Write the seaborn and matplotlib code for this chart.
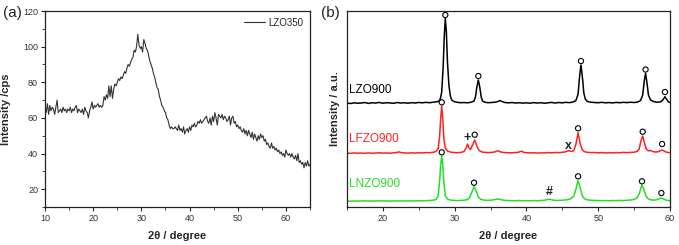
import matplotlib as mpl
import matplotlib.pyplot as plt
import numpy as np
import seaborn as sns

#_______________________________________________________________
# panel (a): LZO350, 0.25 degree steps from 10 to 65
a_start, a_step = 10.0, 0.25
lzo350 = [66, 63, 68, 62, 67, 64, 66, 65, 62, 66, 70, 63,
          64, 65, 63, 66, 64, 65, 63, 65, 64, 66, 63, 65,
          64, 66, 67, 63, 65, 64, 63, 65, 62, 66, 64, 63,
          60, 64, 66, 69, 65, 67, 66, 67, 68, 66, 67, 66,
          67, 72, 70, 73, 71, 78, 72, 78, 71, 76, 79, 78,
          80, 82, 81, 83, 82, 84, 86, 85, 88, 90, 89, 91,
          93, 94, 98, 97, 100, 107, 101, 99, 100, 97, 104, 102,
          99, 98, 95, 92, 90, 88, 85, 83, 80, 77, 76, 72,
          70, 67, 66, 64, 63, 60, 59, 56, 54, 55, 54, 54,
          55, 54, 53, 56, 53, 54, 52, 55, 51, 53, 54, 52,
          55, 53, 56, 55, 57, 55, 56, 58, 57, 59, 57, 58,
          59, 60, 61, 58, 57, 60, 56, 61, 58, 63, 60, 56,
          62, 61, 60, 62, 59, 61, 60, 58, 59, 61, 56, 60,
          61, 57, 58, 55, 56, 54, 55, 53, 52, 54, 51, 53,
          50, 53, 51, 49, 52, 48, 51, 49, 47, 50, 48, 51,
          49, 50, 47, 48, 45, 46, 44, 43, 46, 43, 44, 42,
          43, 41, 42, 40, 41, 39, 40, 38, 42, 40, 39, 40,
          38, 40, 38, 37, 39, 36, 40, 35, 36, 34, 35, 32,
          35, 33, 36, 33, 34]
theta_a = a_start + a_step * np.arange(len(lzo350))

#_______________________________________________________________
# panel (b): stacked patterns (arbitrary offset units)
lzo900_t = [15, 15.5, 16, 16.5, 17, 17.5, 18, 18.5, 19, 19.5, 20, 20.5, 21, 21.5, 22, 22.5, 23, 23.5,
            24, 24.5, 25, 25.5, 26, 26.5, 27, 27.5, 27.8, 28.0, 28.2, 28.4, 28.55, 28.7, 28.85, 29.0,
            29.2, 29.4, 29.6, 29.9, 30.3, 30.8, 31.3, 31.8, 32.3, 32.7, 32.9, 33.1, 33.3, 33.5, 33.7,
            33.9, 34.2, 34.7, 35.2, 35.7, 36.0, 36.3, 36.6, 37.0, 37.5, 38, 38.5, 39, 39.5, 40, 40.5,
            41, 41.5, 42, 42.5, 43, 43.5, 44, 44.5, 45, 45.5, 46, 46.5, 46.9, 47.2, 47.4, 47.6, 47.8,
            48.0, 48.2, 48.5, 49, 49.5, 50, 50.5, 51, 51.5, 52, 52.5, 53, 53.5, 54, 54.5, 55, 55.5,
            55.9, 56.2, 56.4, 56.6, 56.8, 57.0, 57.3, 57.7, 58.2, 58.7, 59.0, 59.3, 59.6, 59.8, 60]
lzo900_i = [104, 103.5, 104.2, 103.8, 104, 104.5, 103.6, 104.3, 104, 104.6, 103.8, 104.3, 104.1, 103.7,
            104.5, 104, 104.3, 103.8, 104.4, 104, 104.6, 104.2, 104.7, 104.3, 104.8, 105.2, 106, 108,
            115, 140, 170, 188.7, 175, 145, 122, 111, 107, 105.5, 104.8, 104.3, 104.5, 104.2, 104.8,
            106, 110, 120, 127, 120, 110, 106, 104.8, 104.3, 104.6, 104.8, 105.5, 106.5, 105.5, 104.5,
            104.2, 104.5, 104, 104.3, 103.9, 104.2, 103.8, 104.4, 104, 104.3, 103.8, 104.2, 104.6, 104,
            104.5, 104.2, 104.7, 104.4, 105, 106.5, 113, 130, 142, 130, 114, 108, 105.5, 104.8, 104.5,
            104.3, 104.7, 104.2, 104.5, 104.1, 104.6, 104.3, 104.7, 104.4, 104.8, 104.5, 105, 106.5,
            112, 125, 133.7, 124, 112, 107, 105.5, 104.8, 105.2, 107, 110.3, 107, 105, 104.5]

lfzo900_t = [15, 15.5, 16, 16.5, 17, 17.5, 18, 18.5, 19, 19.5, 20, 20.5, 21, 21.5, 22, 22.2, 22.5, 23,
             23.5, 24, 24.5, 25, 25.5, 26, 26.5, 27, 27.4, 27.7, 27.9, 28.05, 28.2, 28.35, 28.5, 28.7,
             29, 29.4, 29.9, 30.4, 30.9, 31.3, 31.6, 31.8, 32.0, 32.2, 32.5, 32.8, 33.1, 33.4, 33.8,
             34.3, 34.8, 35.3, 35.7, 36.0, 36.3, 36.8, 37.3, 37.8, 38.3, 38.8, 39.3, 39.6, 40, 40.5, 41,
             41.5, 42, 42.5, 43, 43.5, 44, 44.5, 45, 45.5, 45.9, 46.3, 46.6, 46.9, 47.2, 47.5, 47.8,
             48.1, 48.5, 49, 49.5, 50, 50.5, 51, 51.5, 52, 52.5, 53, 53.5, 54, 54.5, 55, 55.4, 55.7,
             55.95, 56.2, 56.45, 56.7, 57.0, 57.3, 57.6, 58, 58.4, 58.7, 58.9, 59.2, 59.5, 60]
lfzo900_i = [54, 53.6, 54.2, 53.8, 54, 53.7, 54.1, 53.8, 54, 54.2, 53.9, 54.1, 53.8, 54.2, 54.6, 55.2,
             54.5, 54.1, 53.9, 54.2, 54, 54.3, 54.1, 54.4, 54.3, 54.7, 55.5, 58, 70, 88, 101, 88, 68,
             59, 56, 55, 54.5, 54.3, 54.6, 55.5, 59, 63, 59, 57.5, 62, 67, 61, 56.5, 55, 54.6, 54.4,
             54.7, 55.3, 56.3, 55.3, 54.5, 54.3, 54.2, 54.4, 54.6, 55.8, 54.8, 54.3, 54.1, 54.3, 54,
             54.2, 54.1, 54.4, 54.2, 54.5, 54.4, 54.7, 55.3, 56.3, 55.5, 56.5, 63, 74.3, 63, 57, 55.3,
             54.7, 54.4, 54.5, 54.2, 54.4, 54.1, 54.3, 54.2, 54.4, 54.3, 54.6, 54.4, 54.6, 54.8, 55.5,
             58, 66, 71, 64, 58, 56.2, 56.5, 55.5, 55, 55.3, 56.5, 57, 56, 54.8, 54.3]

lnzo900_t = [15, 15.5, 16, 16.5, 17, 17.5, 18, 18.5, 19, 19.5, 20, 20.5, 21, 21.5, 22, 22.5, 23, 23.5,
             24, 24.5, 25, 25.5, 26, 26.5, 27, 27.4, 27.7, 27.9, 28.05, 28.2, 28.35, 28.5, 28.7, 29,
             29.4, 29.9, 30.4, 30.9, 31.4, 31.8, 32.1, 32.4, 32.7, 33.0, 33.3, 33.6, 34, 34.5, 35, 35.5,
             36, 36.4, 36.9, 37.4, 38, 38.5, 39, 39.5, 40, 40.5, 41, 41.5, 42, 42.5, 43.2, 43.7, 44.2,
             44.7, 45.2, 45.7, 46.2, 46.6, 46.9, 47.2, 47.5, 47.8, 48.1, 48.5, 49, 49.5, 50, 50.5, 51,
             51.5, 52, 52.5, 53, 53.5, 54, 54.5, 55, 55.4, 55.7, 55.95, 56.1, 56.35, 56.6, 56.9, 57.3,
             57.8, 58.2, 58.5, 58.8, 59.1, 59.5, 60]
lnzo900_i = [6, 5.8, 6.1, 5.9, 6, 6.2, 5.9, 6.1, 6, 6.2, 6, 6.1, 5.9, 6.1, 6, 6.2, 6, 6.1, 6.2, 6, 6.3,
             6.2, 6.4, 6.5, 6.8, 7.6, 11, 25, 42, 51, 42, 24, 11, 8, 7, 6.6, 6.4, 6.6, 6.9, 7.5, 9.5, 15,
             20.3, 16, 10, 7.8, 7, 6.7, 6.8, 7.3, 8, 7.4, 6.7, 6.5, 6.4, 6.3, 6.5, 6.3, 6.4, 6.2, 6.4,
             6.3, 6.5, 6.8, 7.8, 6.9, 6.6, 6.7, 6.9, 7.3, 8.3, 11, 18, 26.3, 19, 11, 8.2, 7.2, 6.8, 6.6,
             6.5, 6.4, 6.5, 6.3, 6.5, 6.4, 6.6, 6.5, 6.7, 7, 7.6, 9, 13, 19, 22, 18, 12, 8.5, 7.2, 6.9,
             7.3, 8.3, 9, 8, 6.8, 6.3]

# phase markers: o = pyrochlore/fluorite peaks, others = impurities
ring_t = [28.7, 33.3, 47.6, 56.6, 59.3, 28.2, 32.8, 47.2, 56.2, 58.9, 28.2, 32.7, 47.2, 56.1, 58.8]
ring_i = [192, 131, 146, 137.5, 115, 104.7, 72.3, 78.7, 75.3, 63, 54.7, 24.3, 30.7, 25.7, 14]
extra_sym = ['+', 'x', '#']
extra_t = [31.8, 45.9, 43.2]
extra_i = [69, 61, 15]

names = ['LZO900', 'LFZO900', 'LNZO900']
name_y = [117, 68, 23]
colors = ['black', '#ff2020', '#22e022']

#_______________________________________________________________
sns.set_style('ticks')
plt.rcParams['font.family'] = ['Liberation Sans', 'DejaVu Sans']
plt.rcParams['xtick.direction'] = 'out'
plt.rcParams['ytick.direction'] = 'out'

fig = plt.figure(figsize=(6.79, 2.45), dpi=100)
ax1 = fig.add_axes([0.0663, 0.155, 0.3903, 0.80])
ax2 = fig.add_axes([0.511, 0.155, 0.4757, 0.80])

# (a)
sns.lineplot(x=theta_a, y=lzo350, ax=ax1, color='#333333', lw=0.8, label='LZO350', estimator=None)
ax1.set_xlim(10, 65)
ax1.set_ylim(10, 120)
ax1.set_xticks(range(10, 61, 10))
ax1.set_yticks(range(20, 121, 20))
ax1.xaxis.set_minor_locator(mpl.ticker.MultipleLocator(5))
ax1.yaxis.set_minor_locator(mpl.ticker.MultipleLocator(10))
ax1.set_xlabel('2θ / degree', fontsize=8, fontweight='bold', labelpad=6)
ax1.set_ylabel('Intensity /cps', fontsize=8, fontweight='bold', labelpad=9)
ax1.legend(loc='upper right', frameon=False, fontsize=7, handlelength=2.2, handletextpad=0.3,
           borderaxespad=0.3)

# (b)
series = [(lzo900_t, lzo900_i), (lfzo900_t, lfzo900_i), (lnzo900_t, lnzo900_i)]
for (t, i), c in zip(series, colors):
    sns.lineplot(x=t, y=i, ax=ax2, color=c, lw=1.1, estimator=None)
sns.scatterplot(x=ring_t, y=ring_i, ax=ax2, marker='o', s=14, facecolor='none',
                edgecolor='black', linewidth=0.8, zorder=5)
for s, t, i in zip(extra_sym, extra_t, extra_i):
    ax2.text(t, i, s, ha='center', va='center', fontsize=9, fontweight='bold', color='#222222')
for n, y, c in zip(names, name_y, colors):
    ax2.text(15.3, y, n, ha='left', va='center', fontsize=8.5, color=c)
ax2.set_xlim(15, 60)
ax2.set_ylim(0, 196)
ax2.set_xticks(range(20, 61, 10))
ax2.set_yticks([])
ax2.xaxis.set_minor_locator(mpl.ticker.MultipleLocator(5))
ax2.set_xlabel('2θ / degree', fontsize=8, fontweight='bold', labelpad=6)
ax2.set_ylabel('Intensity / a.u.', fontsize=8, fontweight='bold', labelpad=5)

for ax in (ax1, ax2):
    for sp in ax.spines.values():
        sp.set_visible(True)
        sp.set_linewidth(0.9)
        sp.set_color('#222222')
    ax.tick_params(which='major', length=3, width=0.8, labelsize=6.5, labelcolor='#333333', pad=2)
    ax.tick_params(which='minor', length=2, width=0.6)

fig.text(0.004, 0.93, '(a)', fontsize=11)
fig.text(0.473, 0.93, '(b)', fontsize=11)

plt.savefig('out.png', dpi=100)
